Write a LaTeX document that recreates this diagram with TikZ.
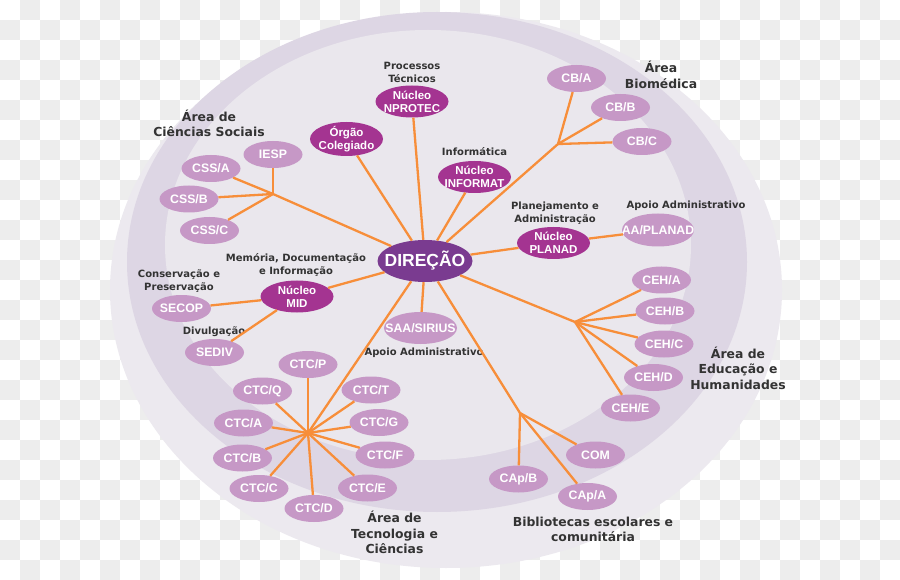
\documentclass[tikz,border=0pt]{standalone}
\usepackage{fontspec}
\setmainfont{DejaVu Sans}
\newfontfamily\nodefont{Liberation Sans}
\usetikzlibrary{shapes.geometric}

\definecolor{lilac}{RGB}{198,152,198}
\definecolor{nucleo}{RGB}{164,52,145}
\definecolor{direcao}{RGB}{122,59,144}
\definecolor{ramo}{RGB}{247,142,58}
\definecolor{anelfora}{RGB}{236,233,239}
\definecolor{anelmeio}{RGB}{221,214,228}
\definecolor{aneldentro}{RGB}{234,231,237}
\definecolor{rotulo}{RGB}{51,51,51}
\definecolor{xadrez}{RGB}{237,237,237}

\tikzset{
  setor/.style={ellipse, fill=lilac, text=white, inner xsep=-11pt, inner ysep=-3pt,
    minimum width=59, minimum height=27,
    font=\nodefont\bfseries\fontsize{12.3}{13}\selectfont},
  nucleobox/.style={ellipse, fill=nucleo, text=white, inner xsep=-8pt, inner ysep=-4pt,
    align=center, minimum width=73, minimum height=32,
    font=\nodefont\bfseries\fontsize{11.5}{13}\selectfont},
  rot/.style={text=rotulo, align=center, inner sep=0,
    font=\bfseries\fontsize{10}{13}\selectfont},
  area/.style={text=rotulo, align=center, inner sep=0,
    font=\bfseries\fontsize{12.4}{15.5}\selectfont},
  ramal/.style={draw=ramo, line width=2.3pt}
}

\begin{document}
\begin{tikzpicture}[x=1pt, y=-1pt]
  \useasboundingbox (0,0) rectangle (900,580);
  % fundo
  \fill[white] (0,0) rectangle (900,580);
  \foreach \i in {0,...,44}
    \foreach \j in {0,...,28} {
      \pgfmathtruncatemacro{\paridade}{mod(\i+\j,2)}
      \ifnum\paridade=1 \fill[xadrez] (20*\i,20*\j) rectangle ++(20,20); \fi
    }
  \fill[anelfora] (446,290) ellipse (336 and 278);
  \fill[anelmeio] (437,262) ellipse (310 and 250);
  \fill[aneldentro] (428,245) ellipse (263 and 215);

  % centro
  \node[ellipse, fill=direcao, text=white, inner xsep=-14pt, inner ysep=-4pt,
    minimum width=95, minimum height=42,
    font=\nodefont\bfseries\fontsize{17.5}{20}\selectfont] (dir) at (425,261) {DIREÇÃO};

  % nucleos
  \node[nucleobox] (nprotec) at (412,101.5) {Núcleo\\NPROTEC};
  \node[nucleobox, minimum height=34] (orgao) at (346.5,139) {Órgão\\Colegiado};
  \node[nucleobox] (informat) at (474.5,177) {Núcleo\\INFORMAT};
  \node[nucleobox] (planad) at (553.5,243) {Núcleo\\PLANAD};
  \node[nucleobox] (mid) at (297,296.5) {Núcleo\\MID};

  \node[rot] at (412,72) {Processos\\Técnicos};
  \node[rot] at (474.5,152) {Informática};
  \node[rot] at (555,213.5) {Planejamento e\\Administração};
  \node[rot] at (296,264.5) {Memória, Documentação\\e Informação};

  % apoio
  \node[setor, minimum width=72, minimum height=33] (aa) at (658,230) {AA/PLANAD};
  \node[rot] at (686,206) {Apoio Administrativo};
  \node[setor, minimum width=73, minimum height=32] (saa) at (420.5,328) {SAA/SIRIUS};
  \node[rot] at (424,353) {Apoio Administrativo};

  % MID
  \node[setor] (secop) at (181.5,308.5) {SECOP};
  \node[setor] (sediv) at (214.5,352.5) {SEDIV};
  \node[rot] at (179,281) {Conservação e\\Preservação};
  \node[rot] at (214,332) {Divulgação};

  % Ciencias Sociais
  \coordinate (jcss) at (273,194);
  \node[setor] (iesp) at (273,154.5) {IESP};
  \node[setor] (cssa) at (211,168.5) {CSS/A};
  \node[setor] (cssb) at (189,199) {CSS/B};
  \node[setor] (cssc) at (209.5,230.5) {CSS/C};
  \node[area] at (209,123.5) {Área de\\Ciências Sociais};

  % Biomedica
  \coordinate (jcb) at (558,144);
  \node[setor] (cba) at (576.5,78.5) {CB/A};
  \node[setor] (cbb) at (620.5,107.5) {CB/B};
  \node[setor] (cbc) at (642,141.5) {CB/C};
  \node[area] at (661,75) {Área\\Biomédica};

  % Educacao e Humanidades
  \coordinate (jceh) at (575,322);
  \node[setor] (ceha) at (661.5,280) {CEH/A};
  \node[setor] (cehb) at (665,311) {CEH/B};
  \node[setor] (cehc) at (664,344) {CEH/C};
  \node[setor] (cehd) at (653.5,377.5) {CEH/D};
  \node[setor] (cehe) at (630.5,408) {CEH/E};
  \node[area] at (738,368) {Área de\\Educação e\\Humanidades};

  % Tecnologia e Ciencias
  \coordinate (jctc) at (308,433);
  \node[setor] (ctcp) at (308,364.5) {CTC/P};
  \node[setor] (ctcq) at (262.5,391) {CTC/Q};
  \node[setor] (ctct) at (371,390) {CTC/T};
  \node[setor] (ctca) at (243.5,423) {CTC/A};
  \node[setor] (ctcg) at (379,422.5) {CTC/G};
  \node[setor] (ctcb) at (242.5,458) {CTC/B};
  \node[setor] (ctcf) at (385,455) {CTC/F};
  \node[setor] (ctcc) at (259,488.5) {CTC/C};
  \node[setor] (ctce) at (367.5,488) {CTC/E};
  \node[setor] (ctcd) at (314,508.5) {CTC/D};
  \node[area] at (394.5,532.5) {Área de\\Tecnologia e\\Ciências};

  % Bibliotecas
  \coordinate (jbib) at (520,413);
  \node[setor] (com) at (595.5,455) {COM};
  \node[setor] (capb) at (518.5,479) {CAp/B};
  \node[setor] (capa) at (587.5,496.5) {CAp/A};
  \node[area] at (593,529.5) {Bibliotecas escolares e\\comunitária};

  % ligacoes
  \foreach \n in {nprotec,orgao,informat,planad,mid,saa,jcss,jcb,jceh,jctc,jbib}
    \draw[ramal] (dir) -- (\n);
  \draw[ramal] (planad) -- (aa);
  \draw[ramal] (mid) -- (secop);
  \draw[ramal] (mid) -- (sediv);
  \foreach \n in {iesp,cssa,cssb,cssc}
    \draw[ramal] (jcss) -- (\n);
  \foreach \n in {cba,cbb,cbc}
    \draw[ramal] (jcb) -- (\n);
  \foreach \n in {ceha,cehb,cehc,cehd,cehe}
    \draw[ramal] (jceh) -- (\n);
  \foreach \n in {ctcp,ctcq,ctct,ctca,ctcg,ctcb,ctcf,ctcc,ctce,ctcd}
    \draw[ramal] (jctc) -- (\n);
  \foreach \n in {com,capb,capa}
    \draw[ramal] (jbib) -- (\n);
\end{tikzpicture}
\end{document}
